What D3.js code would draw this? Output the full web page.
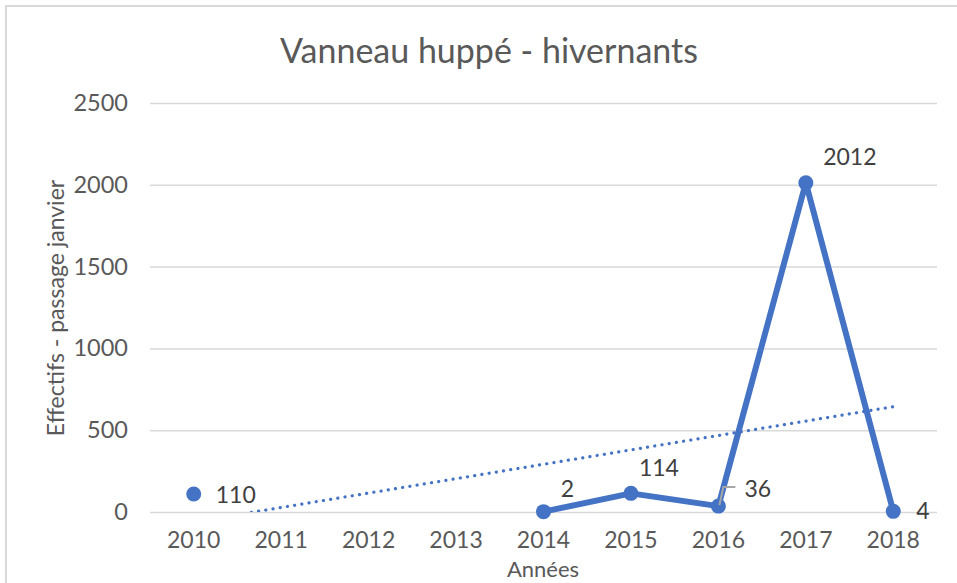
<!DOCTYPE html>
<html><head><meta charset="utf-8">
<script src="https://cdn.jsdelivr.net/npm/d3@7"></script>
<style>body{margin:0;background:#fff}svg{display:block}text{font-family:Lato,"Open Sans",sans-serif}</style>
</head><body><svg id="c" width="957" height="583"></svg>
<script>
const years = ["2010","2011","2012","2013","2014","2015","2016","2017","2018"];
const counts = [110, null, null, null, 2, 114, 36, 2012, 4];
const yTicks = [0, 500, 1000, 1500, 2000, 2500];
const title = "Vanneau huppé - hivernants";
const xTitle = "Années";
const yTitle = "Effectifs - passage janvier";

const svg = d3.select("#c");
const blue = "#4472C4", grey = "#595959", grid = "#d9d9d9";
const L = 150, R = 937, T = 103, B = 512;

svg.append("rect").attr("x",6).attr("y",6).attr("width",980).attr("height",600)
  .attr("fill","#fff").attr("stroke","#d9d9d9").attr("stroke-width",2);

const x = d3.scaleBand().domain(years).range([L, R]);
const cx = d => x(d) + x.bandwidth()/2;
const y = d3.scaleLinear().domain([0, 2500]).range([B, T]);

// gridlines + y axis
const ya = svg.append("g").attr("transform",`translate(${L},0)`)
  .call(d3.axisLeft(y).tickValues(yTicks).tickFormat(d3.format("d")).tickSize(-(R-L)).tickPadding(22));
ya.select(".domain").remove();
ya.selectAll(".tick line").attr("stroke",grid).attr("stroke-width",1.5);
ya.selectAll(".tick text").attr("fill",grey).style("font-size","23.5px");

// x axis
const xa = svg.append("g").attr("transform",`translate(0,${B})`)
  .call(d3.axisBottom(x).tickSize(0).tickPadding(20));
xa.select(".domain").remove();
xa.selectAll(".tick text").attr("fill",grey).style("font-size","23px");

// titles
svg.append("text").attr("x",489).attr("y",63).attr("text-anchor","middle")
  .attr("fill",grey).style("font-size","34px").text(title);
svg.append("text").attr("x",543).attr("y",577).attr("text-anchor","middle")
  .attr("fill",grey).style("font-size","22px").text(xTitle);
svg.append("text").attr("transform","translate(64,308) rotate(-90)").attr("text-anchor","middle")
  .attr("fill",grey).style("font-size","23px").text(yTitle);

// trend line (least squares on category index 1..n)
const pts = counts.map((v,i)=>({i:i+1, v, yr: years[i]})).filter(d=>d.v!=null);
const mx = d3.mean(pts,d=>d.i), my = d3.mean(pts,d=>d.v);
const slope = d3.sum(pts,d=>(d.i-mx)*(d.v-my)) / d3.sum(pts,d=>(d.i-mx)**2);
const icpt = my - slope*mx;
const xi = i => cx(years[0]) + (i-1)*x.step();
svg.append("clipPath").attr("id","pc").append("rect").attr("x",L).attr("y",T-20).attr("width",R-L).attr("height",B-T+20);
svg.append("line").attr("clip-path","url(#pc)")
  .attr("x1",xi(1)).attr("y1",y(icpt+slope*1)).attr("x2",xi(years.length)).attr("y2",y(icpt+slope*years.length))
  .attr("stroke",blue).attr("stroke-width",3.2).attr("stroke-linecap","round").attr("stroke-dasharray","0.1 7.2");

// line
const line = d3.line().defined(d=>d.v!=null).x(d=>cx(d.yr)).y(d=>y(d.v));
svg.append("path").datum(counts.map((v,i)=>({v, yr:years[i]})))
  .attr("d",line).attr("fill","none").attr("stroke",blue).attr("stroke-width",6).attr("stroke-linejoin","round");
svg.selectAll("circle.m").data(pts).join("circle").attr("class","m")
  .attr("cx",d=>cx(d.yr)).attr("cy",d=>y(d.v)).attr("r",7.5).attr("fill",blue);

// labels (offsets relative to the point, layout only)
const off = {"2010":[22,9,"start"],"2014":[24,-15,"middle"],"2015":[28,-17,"middle"],"2016":[26,-9,"start"],"2017":[44,-18,"middle"],"2018":[23,8,"start"]};
svg.selectAll("text.lab").data(pts).join("text").attr("class","lab")
  .attr("x",d=>cx(d.yr)+off[d.yr][0]).attr("y",d=>y(d.v)+off[d.yr][1]).attr("text-anchor",d=>off[d.yr][2])
  .attr("fill","#404040").style("font-size","23px").text(d=>d.v);
// leader line for 2016
const p16 = pts.find(d=>d.yr==="2016");
svg.append("path").attr("d",`M${cx("2016")+1},${y(p16.v)-1} L${cx("2016")+5},${y(p16.v)-19} L${cx("2016")+17},${y(p16.v)-19}`)
  .attr("fill","none").attr("stroke","#a6a6a6").attr("stroke-width",2);
</script></body></html>
